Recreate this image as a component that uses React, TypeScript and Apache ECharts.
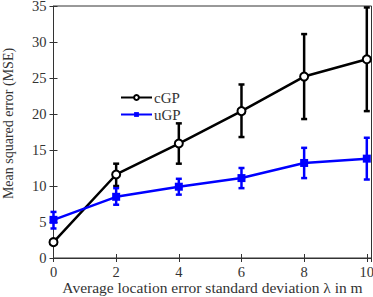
import React, { useEffect, useRef } from "react";
import * as echarts from "echarts";

const xValues = [0, 2, 4, 6, 8, 10];
const cgpMean = [2.2, 11.6, 15.9, 20.4, 25.2, 27.6];
const cgpLow = [2.0, 10.0, 13.1, 16.8, 19.3, 20.4];
const cgpHigh = [2.4, 13.1, 18.7, 24.1, 31.1, 34.8];
const ugpMean = [5.3, 8.5, 9.9, 11.1, 13.2, 13.8];
const ugpLow = [4.1, 7.4, 8.8, 9.7, 11.1, 10.9];
const ugpHigh = [6.4, 9.7, 11.0, 12.5, 15.3, 16.7];

const FONT = "'Liberation Serif', 'DejaVu Serif', serif";

function errorSeries(name: string, low: number[], high: number[], color: string) {
  return {
    type: "custom",
    name: name + "-err",
    data: xValues.map((x, i) => [x, low[i], high[i]]),
    encode: { x: 0, y: [1, 2] },
    z: 3,
    silent: true,
    renderItem: (params: any, api: any) => {
      const x = api.value(0);
      const lo = api.coord([x, api.value(1)]);
      const hi = api.coord([x, api.value(2)]);
      const cap = 3;
      const style = { stroke: color, lineWidth: 2.5 };
      return {
        type: "group",
        children: [
          { type: "line", shape: { x1: lo[0], y1: lo[1], x2: hi[0], y2: hi[1] }, style },
          { type: "line", shape: { x1: lo[0] - cap, y1: lo[1], x2: lo[0] + cap, y2: lo[1] }, style },
          { type: "line", shape: { x1: hi[0] - cap, y1: hi[1], x2: hi[0] + cap, y2: hi[1] }, style },
        ],
      };
    },
  };
}

export default function App() {
  const ref = useRef<HTMLDivElement>(null);
  useEffect(() => {
    const chart = echarts.init(ref.current!, null, { renderer: "svg" });
    const axisLabelStyle = { color: "#333", fontFamily: FONT, fontSize: 14.5 };
    chart.setOption({
      animation: false,
      backgroundColor: "#fff",
      textStyle: { fontFamily: FONT },
      grid: {
        left: 53.5,
        right: 1.5,
        top: 6,
        bottom: 39,
        show: true,
        borderColor: "#333",
        borderWidth: 1,
        containLabel: false,
        outerBoundsMode: "none",
      },
      legend: {
        orient: "vertical",
        left: 115,
        top: 85,
        itemWidth: 31,
        itemHeight: 6,
        itemGap: 2,
        data: ["cGP", "uGP"],
        textStyle: { fontFamily: FONT, fontSize: 15, color: "#333", padding: [0, 0, 0, -3] },
      },
      xAxis: [
        {
          type: "value",
          min: 0,
          max: 10.15,
          interval: 2,
          position: "bottom",
          axisLine: { show: true, lineStyle: { color: "#333", width: 1 } },
          axisTick: { show: true, inside: true, length: 4, lineStyle: { color: "#333" } },
          splitLine: { show: false },
          axisLabel: {
            ...axisLabelStyle,
            margin: 6,
            showMaxLabel: false,
            formatter: (v: number) => (Number.isInteger(v) ? String(v) : ""),
          },
          name: "Average location error standard deviation λ in m",
          nameLocation: "middle",
          nameGap: 21,
          nameMoveOverlap: false,
          nameTextStyle: { fontFamily: FONT, fontSize: 15.5, color: "#333" },
        },
        {
          type: "value",
          min: 0,
          max: 10.15,
          interval: 2,
          position: "top",
          axisLine: { show: false },
          axisTick: { show: true, inside: true, length: 4, lineStyle: { color: "#333" } },
          axisLabel: { show: false },
          splitLine: { show: false },
        },
      ],
      yAxis: [
        {
          type: "value",
          min: 0,
          max: 35,
          interval: 5,
          position: "left",
          axisLine: { show: true, lineStyle: { color: "#333", width: 1 } },
          axisTick: { show: true, inside: true, length: 4, lineStyle: { color: "#333" } },
          splitLine: { show: false },
          axisLabel: { ...axisLabelStyle, margin: 7 },
          name: "Mean squared error (MSE)",
          nameLocation: "middle",
          nameGap: 38,
          nameMoveOverlap: false,
          nameTextStyle: { fontFamily: FONT, fontSize: 14, color: "#333", padding: [0, 0, 0, 17] },
        },
        {
          type: "value",
          min: 0,
          max: 35,
          interval: 5,
          position: "right",
          axisLine: { show: false },
          axisTick: { show: true, inside: true, length: 4, lineStyle: { color: "#333" } },
          axisLabel: { show: false },
          splitLine: { show: false },
        },
      ],
      series: [
        errorSeries("cGP", cgpLow, cgpHigh, "#000"),
        errorSeries("uGP", ugpLow, ugpHigh, "#0000ff"),
        {
          type: "line",
          name: "cGP",
          data: xValues.map((x, i) => [x, cgpMean[i]]),
          z: 4,
          symbol: "circle",
          symbolSize: 8,
          lineStyle: { color: "#000", width: 2.5 },
          itemStyle: { color: "#fff", borderColor: "#000", borderWidth: 2 },
          color: "#000",
        },
        {
          type: "line",
          name: "uGP",
          data: xValues.map((x, i) => [x, ugpMean[i]]),
          z: 4,
          symbol: "rect",
          symbolSize: 8,
          lineStyle: { color: "#0000ff", width: 2.5 },
          itemStyle: { color: "#0000ff", borderColor: "#0000ff", borderWidth: 0 },
          color: "#0000ff",
        },
      ],
    });
    return () => chart.dispose();
  }, []);
  return <div ref={ref} style={{ width: 373, height: 297, position: "absolute", left: 0, top: 0 }} />;
}
